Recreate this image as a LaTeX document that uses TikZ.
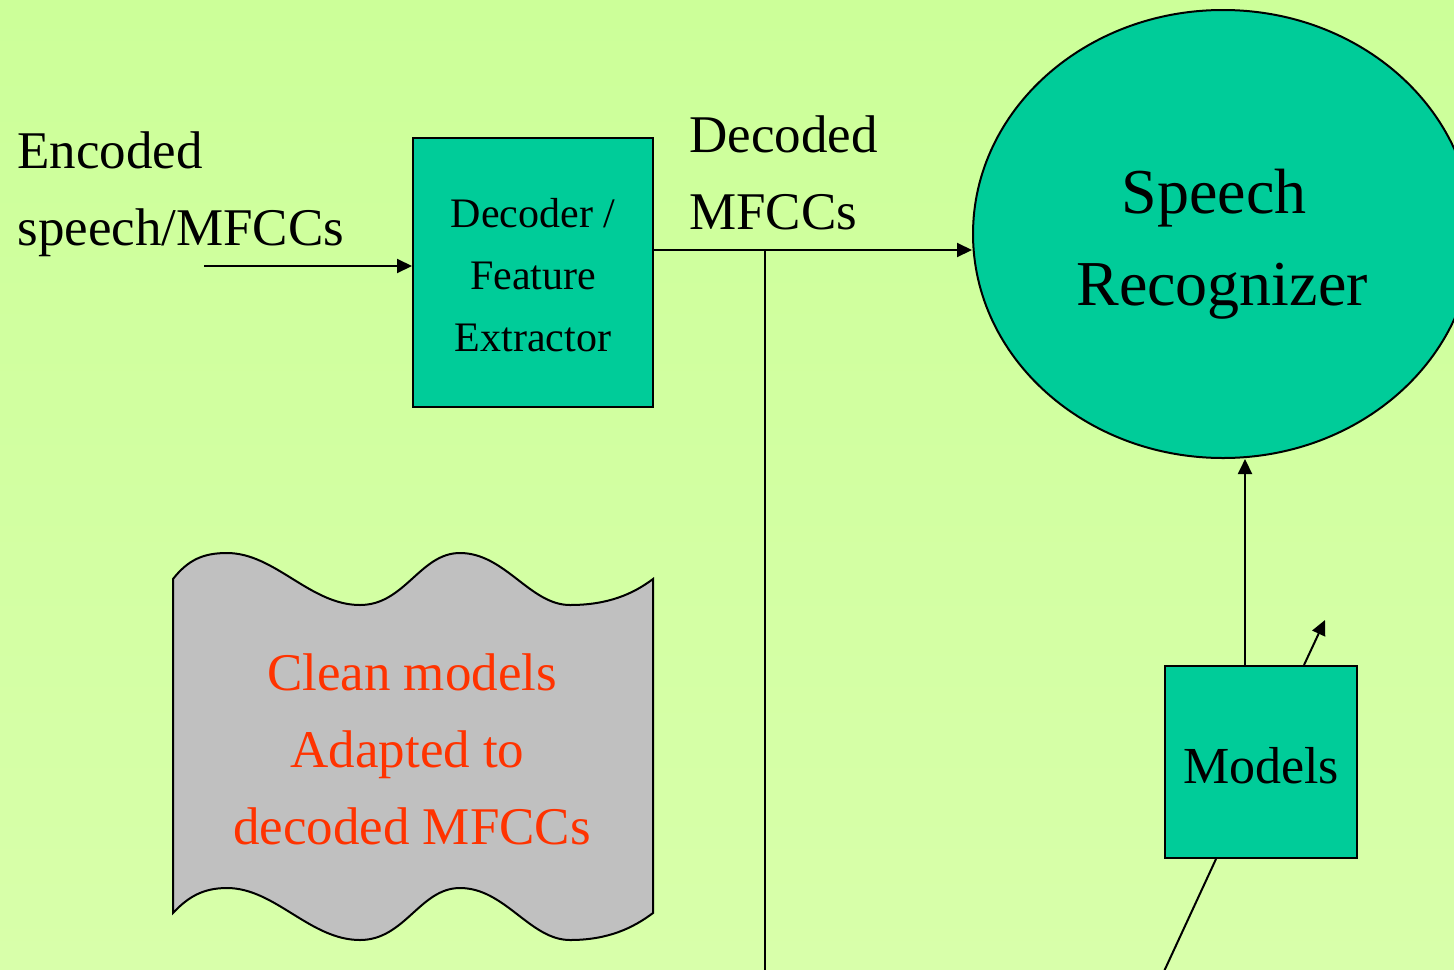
\documentclass[tikz,border=0pt]{standalone}
\usepackage{fontspec}
\setmainfont{Liberation Serif}
\usetikzlibrary{arrows.meta,shapes.geometric}
\definecolor{bgtop}{RGB}{204,255,153}
\definecolor{bgbot}{RGB}{216,255,170}
\definecolor{teal}{RGB}{0,204,153}
\definecolor{wavegray}{RGB}{192,192,192}
\definecolor{redtext}{RGB}{255,51,0}
\tikzset{
  line/.style={line width=1pt, black},
  arr/.style={line, -{Triangle[length=7.5pt,width=7pt]}},
  tealbox/.style={draw=black, line width=1pt, fill=teal, inner sep=0pt},
  bigtext/.style={font=\fontsize{26.5}{38.5}\selectfont, inner sep=0pt},
}
\begin{document}
\begin{tikzpicture}[x=0.5pt,y=-0.5pt]
\useasboundingbox (0,0) rectangle (1454,969);
\shade[top color=bgtop, bottom color=bgbot] (0,0) rectangle (1454,969);
\begin{scope}
\clip (0,0) rectangle (1454,969);
% wave shape
\draw[line, fill=wavegray]
  (173,579) .. controls (188,560) and (203,553) .. (227,553)
  .. controls (275,553) and (310,605) .. (360,605)
  .. controls (405,605) and (420,553) .. (460,553)
  .. controls (505,553) and (530,605) .. (570,605)
  .. controls (608,605) and (633,594) .. (653,579)
  -- (653,913)
  .. controls (633,928) and (608,940) .. (570,940)
  .. controls (530,940) and (505,888) .. (460,888)
  .. controls (420,888) and (405,940) .. (360,940)
  .. controls (310,940) and (275,888) .. (227,888)
  .. controls (203,888) and (188,897) .. (173,913) -- cycle;
\node[bigtext, text=redtext, align=center] (clean) at (412,749)
  {Clean models\\Adapted to\rule{4.5pt}{0pt}\\decoded MFCCs};

% nodes
\node[tealbox, minimum width=120pt, minimum height=134.5pt] (dec) at (533,272.5) {};
\node[font=\fontsize{21}{31}\selectfont, inner sep=0pt, align=center] (dectext) at (533,275)
  {Decoder /\\Feature\\Extractor};
\node[tealbox, ellipse, minimum width=250pt, minimum height=224pt] (sr) at (1223,234) {};
\node[font=\fontsize{32}{46}\selectfont, inner sep=0pt, align=center] (srtext) at (1214,244)
  {Speech\\\hspace*{8pt}Recognizer};
\node[tealbox, minimum width=96pt, minimum height=96pt] (models) at (1261,762) {};
\node[font=\fontsize{26}{38}\selectfont, inner sep=0pt] (modelstext) at (1261,766) {Models};
\node[bigtext, align=left, anchor=west] (inlabel) at (17,193.75) {Encoded\\speech/MFCCs};
\node[bigtext, align=left, anchor=west] (outlabel) at (689,172.5) {Decoded\\MFCCs};

% connectors
\coordinate (inStart) at (204,266);
\draw[arr] (inStart) -- (inStart -| dec.west);
\coordinate (decOut) at ([yshift=11.25pt]dec.east);
\draw[arr] (decOut) -- (decOut -| sr.west);
\coordinate (junc) at (765,250);
\coordinate (bot) at (765,980);
\draw[line] (junc) -- (bot);
\draw[arr] ([xshift=-8pt]models.north) -- ([xshift=-8pt]models.north |- sr.south);
\coordinate (smallTip) at (1325,620);
\draw[arr] ([xshift=21.5pt]models.north) -- (smallTip);
\coordinate (botLeft) at (1160,980);
\draw[line] ([xshift=-22.5pt]models.south) -- (botLeft);
\end{scope}
\end{tikzpicture}
\end{document}
